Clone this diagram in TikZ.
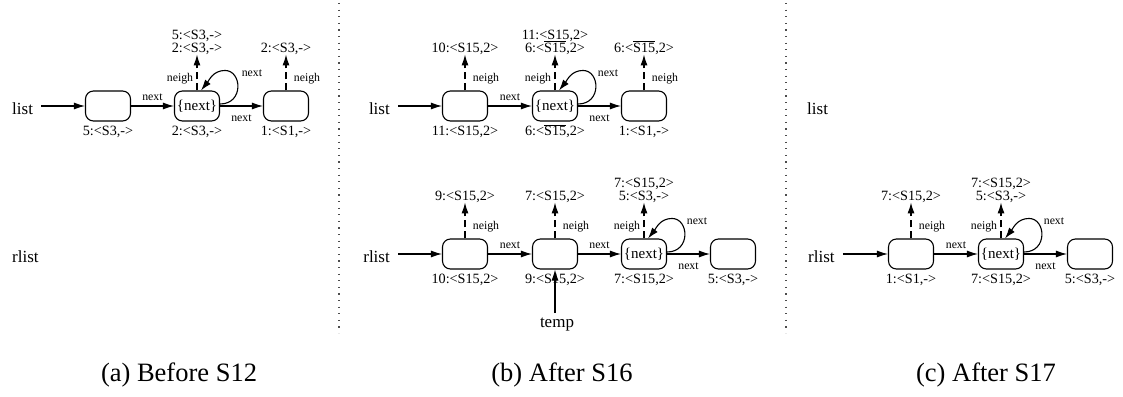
\documentclass[tikz,border=0pt]{standalone}
\usepackage{fontspec}
\setmainfont{Liberation Serif}
\usetikzlibrary{arrows.meta,calc}
\tikzset{
  cell/.style={draw, line width=1.1pt, rounded corners=8pt, minimum width=45pt, minimum height=30pt, inner sep=0pt, font=\fontsize{15}{15}\selectfont},
  ptr/.style={line width=1.1pt, -{Latex[length=11pt,width=7pt]}},
  nb/.style={ptr, dash pattern=on 7pt off 4pt},
  lbl/.style={font=\fontsize{14.2}{12}\selectfont, inner sep=0pt},
  elbl/.style={font=\fontsize{11.8}{12}\selectfont, inner sep=0pt},
  var/.style={font=\fontsize{17}{17}\selectfont, inner sep=0pt},
  captxt/.style={font=\fontsize{26.5}{26}\selectfont, inner sep=0pt, anchor=base},
  sepline/.style={line width=1.1pt, dash pattern=on 1.2pt off 5.4pt, black!70},
}
\newcommand\ovS{$\overline{\hbox{S15}}$}
\newcommand\cellbox[5]{%
  \node[cell] (#1) at (#2,#3) {#4};
  \node[lbl, anchor=base] (#1-b) at ($(#1.south)+(0,14)$) {#5};}
\newcommand\nbr[4]{%
  \coordinate (#1-t) at ($(#1.north)+(0,-36)$);
  \draw[nb] (#1.north) -- (#1-t);
  \node[elbl, anchor=base] (#1-n) at ($(#1.north)+(#2,-9)$) {neigh};
  \node[lbl, anchor=base] (#1-l) at ($(#1-t)+(0,-2)$) {#4};
  \if\relax\detokenize{#3}\relax\else
  \node[lbl, anchor=base] (#1-u) at ($(#1-t)+(0,-14.5)$) {#3};\fi}
\newcommand\selfloop[2]{%
  \coordinate (#1-lt) at ($(#1.north)+(28,-20)$);
  \draw[ptr] ($(#1.east)+(0,-2)$) .. controls ($(#1.east)+(24,-2)$) and ($(#1.north)+(45,-20)$) .. (#1-lt)
     .. controls ($(#1.north)+(16,-20)$) and ($(#1.north)+(12,-10)$) .. ($(#1.north)+(4,0)$);
  \node[elbl, anchor=base] (#1-ln) at ($(#1.north)+(#2,-14)$) {next};}
\begin{document}
\begin{tikzpicture}[x=1pt,y=-1pt]
\useasboundingbox (0,0) rectangle (1123,396);
% separators
\draw[sepline] (339,3) -- (339,333);
\draw[sepline] (786,3) -- (786,333);

% ---------- panel (a)
\node[var, anchor=base west] (la) at (12,114) {list};
\node[var, anchor=base west] (ra) at (12,262) {rlist};
\cellbox{a1}{108}{106}{}{5:<S3,->}
\cellbox{a2}{197}{106}{\{next\}}{2:<S3,->}
\cellbox{a3}{286}{106}{}{1:<S1,->}
\draw[ptr] ($(la.base east)+(8,-8)$) -- (a1.west);
\draw[ptr] (a1.east) -- node[elbl, midway, anchor=base, yshift=6pt] {next} (a2.west);
\draw[ptr] (a2.east) -- node[elbl, midway, anchor=base, yshift=-15pt] {next} (a3.west);
\nbr{a2}{-17}{5:<S3,->}{2:<S3,->}
\nbr{a3}{21}{}{2:<S3,->}
\selfloop{a2}{55}

% ---------- panel (b) top
\node[var, anchor=base east] (lb) at (390,114) {list};
\cellbox{b1}{465}{106}{}{11:<S15,2>}
\cellbox{b2}{555}{106}{\{next\}}{6:<\ovS,2>}
\cellbox{b3}{644}{106}{}{1:<S1,->}
\draw[ptr] ($(lb.base east)+(8,-8)$) -- (b1.west);
\draw[ptr] (b1.east) -- node[elbl, midway, anchor=base, yshift=6pt] {next} (b2.west);
\draw[ptr] (b2.east) -- node[elbl, midway, anchor=base, yshift=-15pt] {next} (b3.west);
\nbr{b1}{21}{}{10:<S15,2>}
\nbr{b2}{-17}{11:<S15,2>}{6:<\ovS,2>}
\nbr{b3}{21}{}{6:<\ovS,2>}
\selfloop{b2}{53}

% ---------- panel (b) bottom
\node[var, anchor=base east] (rb) at (390,262) {rlist};
\cellbox{c1}{465}{254}{}{10:<S15,2>}
\cellbox{c2}{555}{254}{}{9:<S15,2>}
\cellbox{c3}{644}{254}{\{next\}}{7:<S15,2>}
\cellbox{c4}{733}{254}{}{5:<S3,->}
\draw[ptr] ($(rb.base east)+(8,-8)$) -- (c1.west);
\draw[ptr] (c1.east) -- node[elbl, midway, anchor=base, yshift=6pt] {next} (c2.west);
\draw[ptr] (c2.east) -- node[elbl, midway, anchor=base, yshift=6pt] {next} (c3.west);
\draw[ptr] (c3.east) -- node[elbl, midway, anchor=base, yshift=-15pt] {next} (c4.west);
\nbr{c1}{21}{}{9:<S15,2>}
\nbr{c2}{21}{}{7:<S15,2>}
\nbr{c3}{-17}{7:<S15,2>}{5:<S3,->}
\selfloop{c3}{53}
\node[var, anchor=base] (tmp) at (557,327) {temp};
\draw[ptr] (555,313) -- (c2.south);

% ---------- panel (c)
\node[var, anchor=base west] (lc) at (807,114) {list};
\node[var, anchor=base west] (rc) at (808,262) {rlist};
\cellbox{d1}{911}{254}{}{1:<S1,->}
\cellbox{d2}{1001}{254}{\{next\}}{7:<S15,2>}
\cellbox{d3}{1090}{254}{}{5:<S3,->}
\draw[ptr] ($(rc.base east)+(8,-8)$) -- (d1.west);
\draw[ptr] (d1.east) -- node[elbl, midway, anchor=base, yshift=6pt] {next} (d2.west);
\draw[ptr] (d2.east) -- node[elbl, midway, anchor=base, yshift=-15pt] {next} (d3.west);
\nbr{d1}{21}{}{7:<S15,2>}
\nbr{d2}{-17}{7:<S15,2>}{5:<S3,->}
\selfloop{d2}{53}

% captions
\node[captxt] (capa) at (179,381) {(a) Before S12};
\node[captxt] (capb) at (562,381) {(b) After S16};
\node[captxt] (capc) at (986,381) {(c) After S17};
\end{tikzpicture}
\end{document}
